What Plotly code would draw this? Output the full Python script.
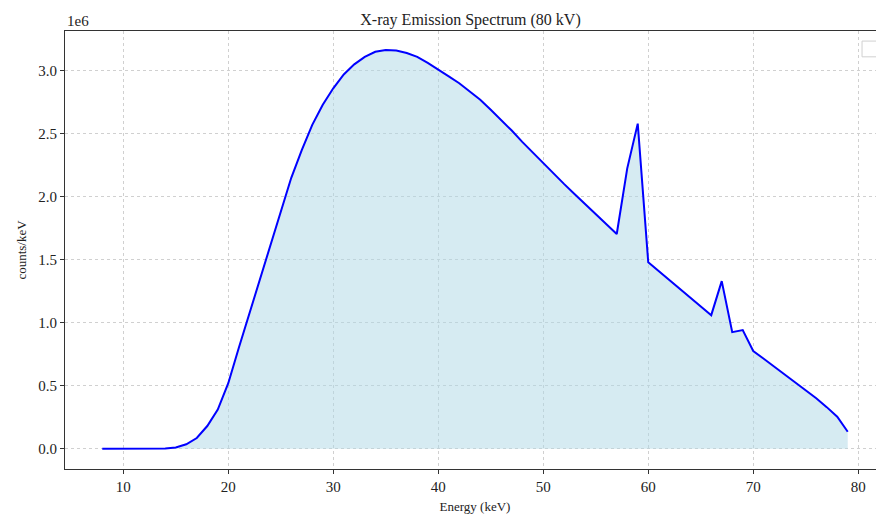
import plotly.graph_objects as go

# Energy (keV) and spectrum values (counts/keV, in units of 1e6)
energy_kev = list(range(8, 80))
counts_1e6 = [
    0.0, 0.0, 0.0, 0.0, 0.0, 0.0, 0.002,          # 8-14
    0.01, 0.035, 0.085, 0.18, 0.31,               # 15-19
    0.52, 0.80, 1.07, 1.35, 1.62,                 # 20-24
    1.89, 2.15, 2.37, 2.57, 2.73,                 # 25-29
    2.86, 2.97, 3.05, 3.11, 3.15,                 # 30-34
    3.165, 3.16, 3.14, 3.11, 3.062,               # 35-39
    3.005, 2.955, 2.90, 2.835, 2.77,              # 40-44
    2.69, 2.61, 2.525, 2.435, 2.35,               # 45-49
    2.265, 2.18, 2.10, 2.02, 1.94,                # 50-54
    1.86, 1.78, 1.704, 2.225, 2.58,               # 55-59
    1.48, 1.41, 1.34, 1.27, 1.20, 1.13,           # 60-65
    1.06, 1.33, 0.925, 0.942, 0.775,              # 66-70
    0.714, 0.652, 0.59, 0.528, 0.466,             # 71-75
    0.40, 0.33, 0.254, 0.135,                     # 76-79
]

x_ticks = [10, 20, 30, 40, 50, 60, 70, 80]
y_ticks = [0.0, 0.5, 1.0, 1.5, 2.0, 2.5, 3.0]

FONT = "Liberation Serif, Times New Roman, serif"

fig = go.Figure()
fig.add_trace(go.Scatter(
    x=energy_kev, y=counts_1e6, mode="lines",
    line=dict(color="#0000ff", width=2),
    fill="tozeroy", fillcolor="rgba(173,216,230,0.5)",
    showlegend=False, hoverinfo="x+y",
))

# figure is slightly wider than the window: the right edge is cropped as in the reference
fig.update_layout(
    width=885, height=520,
    margin=dict(l=65, r=0, t=31, b=51),
    paper_bgcolor="white", plot_bgcolor="white",
    font=dict(family=FONT, color="#222222", size=14),
    title=dict(text="X-ray Emission Spectrum (80 kV)", x=(470.5 - 65) / 820, xref="paper",
               xanchor="center", y=1, yref="paper", yanchor="bottom",
               pad=dict(b=6), font=dict(size=16, family=FONT, color="#222222")),
    showlegend=False,
)

fig.update_xaxes(
    range=[4.45, 82.55], tickvals=x_ticks, ticks="outside", ticklen=4,
    tickwidth=1, tickcolor="#333333",
    showline=True, linecolor="#333333", linewidth=1, mirror=True,
    showgrid=True, gridcolor="#d0d0d0", griddash="dot", gridwidth=1,
    zeroline=False,
    title=dict(text="Energy (keV)", font=dict(size=13, family=FONT), standoff=7),
    tickfont=dict(size=15, family=FONT),
)
fig.update_yaxes(
    range=[-0.161, 3.315], tickvals=y_ticks, tickformat=".1f",
    ticks="outside", ticklen=4, tickwidth=1, tickcolor="#333333",
    showline=True, linecolor="#333333", linewidth=1, mirror=False,
    showgrid=True, gridcolor="#d0d0d0", griddash="dot", gridwidth=1,
    zeroline=False,
    title=dict(text="counts/keV", font=dict(size=13, family=FONT), standoff=8),
    tickfont=dict(size=15, family=FONT),
)

# exponent label like matplotlib's offset text
fig.add_annotation(text="1e6", xref="paper", yref="paper", x=0, y=1,
                   xanchor="left", yanchor="bottom", showarrow=False,
                   font=dict(size=15, family=FONT, color="#222222"), yshift=0)

# empty legend frame in the upper right corner
fig.add_shape(type="rect", xref="paper", yref="paper",
              x0=0.972, x1=0.994, y0=0.941, y1=0.977,
              line=dict(color="#d0d0d0", width=1), fillcolor="rgba(255,255,255,0.8)")

fig.write_html(
    "out.html",
    config={"displayModeBar": False},
    post_script="document.body.style.margin='0';document.body.style.overflow='hidden';",
)
